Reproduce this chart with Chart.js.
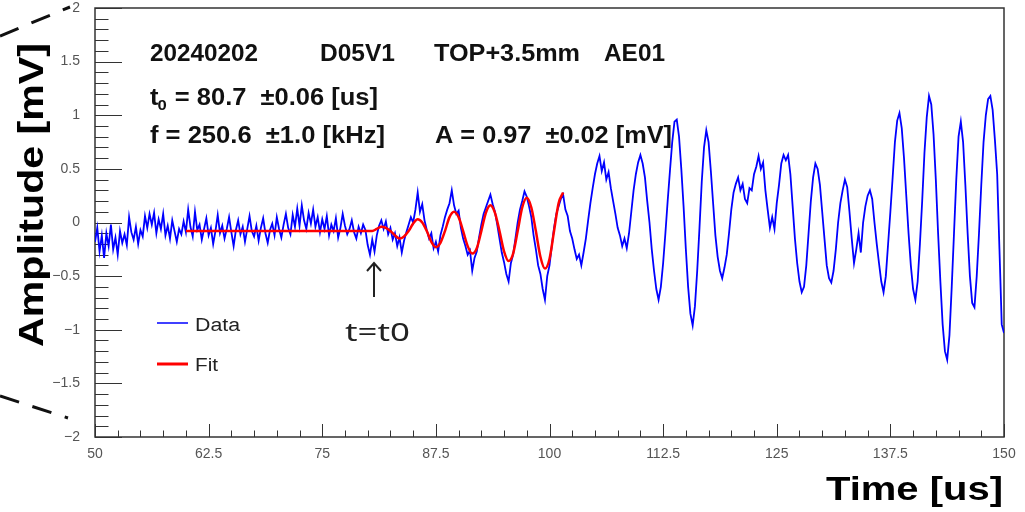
<!DOCTYPE html>
<html>
<head>
<meta charset="utf-8">
<title>AE01 waveform</title>
<script src="https://cdn.jsdelivr.net/npm/chart.js@4.4.1/dist/chart.umd.min.js"></script>
<style>
  html, body { margin: 0; padding: 0; background: #fff; }
  #wrap { width: 1025px; height: 512px; }
</style>
</head>
<body>
<div id="wrap"><canvas id="chart" width="1025" height="512"></canvas></div>
<script>
// sampled waveform: 4 samples per us, one row per microsecond, starting at 50 us
const T_START = 50;
const T_STEP = 0.25;
const amplitude = [
  -0.18, -0.05, -0.27, -0.12,   // 50
  -0.33, -0.10, -0.22, -0.02,
  -0.25, -0.14, -0.30, -0.08,
  -0.19, -0.11, -0.21, 0.05,
  -0.09, -0.16, -0.04, -0.20,
  -0.07, -0.13, 0.06, -0.05,    // 55
  0.08, -0.02, 0.09, -0.10,
  0.03, -0.06, 0.08, -0.12,
  -0.03, -0.15, 0.02, -0.08,
  -0.18, -0.06, -0.11, 0.01,
  -0.09, 0.12, -0.04, -0.13,    // 60
  0.10, -0.07, -0.02, -0.16,
  -0.06, 0.04, -0.12, -0.05,
  -0.20, -0.08, 0.07, -0.10,
  -0.03, -0.15, -0.06, 0.05,
  -0.09, -0.22, -0.07, 0.02,    // 65
  -0.11, -0.04, -0.18, -0.06,
  0.06, -0.08, -0.13, -0.03,
  -0.17, -0.05, 0.04, -0.10,
  -0.19, -0.07, -0.01, -0.12,
  0.05, -0.06, -0.14, -0.02,    // 70
  0.08, -0.05, -0.11, 0.07,
  -0.04, 0.13, -0.03, 0.16,
  0.02, -0.06, 0.09, -0.01,
  0.12, -0.04, 0.05, -0.09,
  0.03, -0.06, 0.06, -0.12,     // 75
  -0.02, -0.08, 0.04, -0.14,
  -0.05, 0.08, -0.03, -0.11,
  -0.06, 0.02, -0.09, -0.15,
  -0.04, -0.10, -0.02, -0.07,
  -0.21, -0.30, -0.16, -0.27,   // 80
  -0.12, -0.03, 0.02, -0.06,
  0.01, -0.11, -0.05, -0.16,
  -0.10, -0.22, -0.14, -0.28,
  -0.17, -0.09, -0.02, 0.05,
  0.00, 0.12, 0.28, 0.10,       // 85
  0.17, 0.02, -0.07, -0.15,
  -0.10, -0.24, -0.18, -0.27,
  -0.12, -0.04, 0.05, 0.12,
  0.18, 0.30, 0.16, 0.08,
  0.11, -0.05, -0.15, -0.22,    // 90
  -0.30, -0.26, -0.45, -0.33,
  -0.27, -0.14, -0.02, 0.08,
  0.14, 0.20, 0.26, 0.17,
  0.10, -0.02, -0.15, -0.28,
  -0.37, -0.48, -0.55, -0.38,   // 95
  -0.30, -0.15, 0.00, 0.12,
  0.20, 0.29, 0.24, 0.15,
  0.05, -0.12, -0.25, -0.40,
  -0.48, -0.62, -0.72, -0.50,
  -0.40, -0.22, -0.05, 0.08,    // 100
  0.15, 0.22, 0.26, 0.12,
  0.06, -0.08, -0.15, -0.25,
  -0.34, -0.30, -0.40, -0.28,
  -0.15, 0.02, 0.18, 0.32,
  0.45, 0.55, 0.62, 0.48,       // 105
  0.56, 0.40, 0.47, 0.32,
  0.20, 0.08, -0.05, -0.12,
  -0.22, -0.15, -0.24, -0.10,
  0.10, 0.30, 0.45, 0.56,
  0.63, 0.55, 0.42, 0.20,       // 110
  0.00, -0.25, -0.45, -0.62,
  -0.72, -0.60, -0.38, -0.10,
  0.20, 0.48, 0.75, 0.94,
  0.96, 0.80, 0.50, 0.15,
  -0.25, -0.60, -0.85, -0.96,   // 115
  -0.78, -0.45, -0.05, 0.38,
  0.70, 0.86, 0.75, 0.48,
  0.18, -0.12, -0.32, -0.45,
  -0.52, -0.42, -0.30, -0.10,
  0.12, 0.28, 0.36, 0.42,       // 120
  0.30, 0.36, 0.22, 0.18,
  0.32, 0.30, 0.45, 0.52,
  0.62, 0.50, 0.56, 0.30,
  0.12, -0.05, 0.05, -0.06,
  0.18, 0.35, 0.55, 0.63,       // 125
  0.58, 0.63, 0.45, 0.15,
  -0.15, -0.38, -0.55, -0.65,
  -0.60, -0.40, -0.10, 0.20,
  0.42, 0.55, 0.50, 0.35,
  0.10, -0.15, -0.40, -0.52,    // 130
  -0.56, -0.45, -0.25, 0.00,
  0.18, 0.30, 0.40, 0.33,
  0.10, -0.15, -0.38, -0.25,
  -0.10, -0.28, 0.00, 0.15,
  0.25, 0.30, 0.22, 0.00,       // 135
  -0.20, -0.38, -0.55, -0.65,
  -0.50, -0.20, 0.10, 0.42,
  0.75, 0.95, 1.02, 0.88,
  0.60, 0.25, -0.10, -0.40,
  -0.62, -0.72, -0.55, -0.20,   // 140
  0.20, 0.65, 0.98, 1.18,
  1.10, 0.82, 0.40, -0.10,
  -0.55, -0.95, -1.20, -1.28,
  -1.05, -0.60, -0.10, 0.40,
  0.80, 0.94, 0.75, 0.35,       // 145
  -0.10, -0.50, -0.75, -0.79,
  -0.50, -0.10, 0.35, 0.75,
  1.00, 1.15, 1.18, 1.05,
  0.77, 0.45, -0.25, -0.95,
  -1.03                          // 150
];

// fitted curve
const fitTimes = [60, 80.5, 81, 81.5, 82, 82.5, 83, 83.5, 84, 84.5, 85, 85.5, 86, 86.5, 87, 87.5,
  88, 88.5, 89, 89.5, 90, 90.5, 91, 91.5, 92, 92.5, 93, 93.5, 94, 94.5, 95, 95.5,
  96, 96.5, 97, 97.5, 98, 98.5, 99, 99.5, 100, 100.5, 101, 101.5];
const fitValues = [-0.08, -0.08, -0.06, -0.04, -0.05, -0.08, -0.12, -0.15, -0.13, -0.08, -0.01, 0.03,
  0.00, -0.08, -0.18, -0.23, -0.19, -0.08, 0.05, 0.10, 0.05, -0.08, -0.22, -0.29,
  -0.24, -0.08, 0.09, 0.16, 0.09, -0.08, -0.27, -0.36, -0.29, -0.08, 0.14, 0.23,
  0.14, -0.08, -0.32, -0.43, -0.34, -0.08, 0.18, 0.28];

const xTickValues = [50, 62.5, 75, 87.5, 100, 112.5, 125, 137.5, 150];
const yTickValues = [-2, -1.5, -1, -0.5, 0, 0.5, 1, 1.5, 2];
const X_MINOR = 2.5;
const Y_MINOR = 0.1;

const headerLabels = ['20240202', 'D05V1', 'TOP+3.5mm', 'AE01'];
const t0Text = ' = 80.7  \u00b10.06 [us]';
const freqText = 'f = 250.6  \u00b11.0 [kHz]';
const ampText = 'A = 0.97  \u00b10.02 [mV]';
const T0_VALUE = 80.7;

const BOLD = 'bold 23px "Liberation Sans", Arial, sans-serif';
const SUB = 'bold 15px "Liberation Sans", Arial, sans-serif';

// draw a string squeezed/stretched to a given width
function fitText(ctx, str, x, y, font, width, color) {
  ctx.save();
  ctx.font = font;
  ctx.fillStyle = color;
  ctx.textBaseline = 'alphabetic';
  ctx.textAlign = 'left';
  const w = ctx.measureText(str).width;
  ctx.translate(x, y);
  ctx.scale(width / w, 1);
  ctx.fillText(str, 0, 0);
  ctx.restore();
}

const isMajor = (list, v) => list.some(t => Math.abs(t - v) < 1e-6);

const frameTicks = {
  id: 'frameTicks',
  beforeDatasetsDraw(chart) {
    const { ctx, chartArea: a, scales: { x, y } } = chart;
    ctx.save();
    ctx.strokeStyle = '#333';
    ctx.lineWidth = 1;
    ctx.beginPath();
    for (let v = x.min; v <= x.max + 1e-6; v += X_MINOR) {
      const px = Math.round(x.getPixelForValue(v)) + 0.5;
      const len = isMajor(xTickValues, v) ? 13 : 6.5;
      ctx.moveTo(px, a.bottom);
      ctx.lineTo(px, a.bottom - len);
    }
    for (let k = 0; k <= 40; k++) {
      const v = y.min + k * Y_MINOR;
      const py = Math.round(y.getPixelForValue(v)) + 0.5;
      const len = isMajor(yTickValues, v) ? 27 : 13.5;
      ctx.moveTo(a.left, py);
      ctx.lineTo(a.left + len, py);
    }
    ctx.stroke();
    ctx.lineWidth = 1.5;
    ctx.strokeRect(a.left, a.top, a.right - a.left, a.bottom - a.top);
    ctx.restore();
  },
  afterDraw(chart) {
    const { ctx, scales: { x } } = chart;
    ctx.save();

    // slide decoration on the left edge
    ctx.strokeStyle = '#111';
    ctx.lineWidth = 3;
    ctx.setLineDash([20, 14]);
    ctx.beginPath();
    ctx.moveTo(0, 36); ctx.lineTo(70, 7);
    ctx.moveTo(0, 396); ctx.lineTo(68, 418);
    ctx.stroke();
    ctx.setLineDash([]);

    // axis titles
    ctx.save();
    ctx.translate(43, 347);
    ctx.rotate(-Math.PI / 2);
    fitText(ctx, 'Amplitude [mV]', 0, 0, 'bold 35px "Liberation Sans", Arial, sans-serif', 304, '#000');
    ctx.restore();
    fitText(ctx, 'Time [us]', 826, 500, 'bold 34px "Liberation Sans", Arial, sans-serif', 177, '#000');

    // fit info
    const hx = [150, 320, 434, 604];
    const hw = [108, 75, 146, 61];
    headerLabels.forEach((s, i) => fitText(ctx, s, hx[i], 61, BOLD, hw[i], '#111'));

    // t0 line with subscript
    ctx.save();
    ctx.font = BOLD;
    const wt = ctx.measureText('t').width;
    const wr = ctx.measureText(t0Text).width;
    ctx.font = SUB;
    const w0 = ctx.measureText('0').width;
    const s = 228 / (wt + w0 + wr);
    ctx.translate(150, 105);
    ctx.scale(s, 1);
    ctx.fillStyle = '#111';
    ctx.font = BOLD;
    ctx.fillText('t', 0, 0);
    ctx.fillText(t0Text, wt + w0, 0);
    ctx.font = SUB;
    ctx.fillText('0', wt - 1, 5);
    ctx.restore();

    fitText(ctx, freqText, 150, 143, BOLD, 235, '#111');
    fitText(ctx, ampText, 435, 143, BOLD, 237, '#111');

    // legend
    ctx.lineWidth = 1.5;
    ctx.strokeStyle = '#0000ff';
    ctx.beginPath(); ctx.moveTo(157, 323); ctx.lineTo(188, 323); ctx.stroke();
    ctx.lineWidth = 3;
    ctx.strokeStyle = '#ff0000';
    ctx.beginPath(); ctx.moveTo(157, 364); ctx.lineTo(188, 364); ctx.stroke();
    const LEG = '18px "Liberation Sans", Arial, sans-serif';
    fitText(ctx, 'Data', 195, 331, LEG, 45, '#222');
    fitText(ctx, 'Fit', 195, 371, LEG, 23, '#222');

    // t0 marker
    const ax = Math.round(x.getPixelForValue(T0_VALUE));
    ctx.strokeStyle = '#222';
    ctx.lineWidth = 2;
    ctx.beginPath();
    ctx.moveTo(ax, 297); ctx.lineTo(ax, 263);
    ctx.moveTo(ax - 7, 271); ctx.lineTo(ax, 263); ctx.lineTo(ax + 7, 271);
    ctx.stroke();
    fitText(ctx, 't=t0', 345, 341, '25px "Noto Sans", "Open Sans", sans-serif', 65, '#222');

    ctx.restore();
  }
};

const fmtTick = v => String(v).replace('-', '\u2212');

new Chart(document.getElementById('chart'), {
  type: 'line',
  data: {
    datasets: [
      {
        label: 'Fit',
        data: fitTimes.map((t, i) => ({ x: t, y: fitValues[i] })),
        borderColor: '#ff0000',
        borderWidth: 2.5,
        pointRadius: 0,
        cubicInterpolationMode: 'monotone',
        order: 0
      },
      {
        label: 'Data',
        data: amplitude.map((v, i) => ({ x: T_START + i * T_STEP, y: v })),
        borderColor: '#0000ff',
        borderWidth: 1.8,
        pointRadius: 0,
        tension: 0,
        order: 1
      }
    ]
  },
  options: {
    responsive: false,
    animation: false,
    layout: { padding: { top: 8, right: 21, left: 0, bottom: 0 } },
    scales: {
      x: {
        type: 'linear',
        min: 50,
        max: 150,
        afterBuildTicks: s => { s.ticks = xTickValues.map(v => ({ value: v })); },
        afterFit: s => { s.height = 75; s.paddingLeft = 0; s.paddingRight = 0; },
        grid: { display: false },
        border: { display: false },
        ticks: {
          autoSkip: false,
          maxRotation: 0,
          padding: 1,
          color: '#555',
          font: { family: '"Liberation Sans", Arial, sans-serif', size: 14 },
          callback: fmtTick
        }
      },
      y: {
        min: -2,
        max: 2,
        afterBuildTicks: s => { s.ticks = yTickValues.map(v => ({ value: v })); },
        afterFit: s => { s.width = 95; s.paddingTop = 0; s.paddingBottom = 0; },
        grid: { display: false },
        border: { display: false },
        ticks: {
          autoSkip: false,
          padding: 7,
          color: '#555',
          font: { family: '"Liberation Sans", Arial, sans-serif', size: 14 },
          callback: fmtTick
        }
      }
    },
    plugins: {
      legend: { display: false },
      tooltip: { enabled: false }
    }
  },
  plugins: [frameTicks]
});
</script>
</body>
</html>
